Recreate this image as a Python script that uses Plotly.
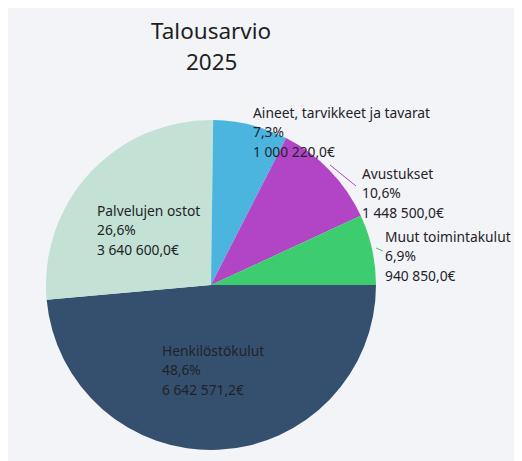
import plotly.graph_objects as go

# ---- data ----
categories = ["Henkilöstökulut", "Palvelujen ostot", "Aineet, tarvikkeet ja tavarat", "Avustukset", "Muut toimintakulut"]
values = [6642571.2, 3640600.0, 1000220.0, 1448500.0, 940850.0]
colors = ["#35506f", "#c3e1d5", "#4bb5e0", "#b145c6", "#3dcd6e"]
title_lines = ["Talousarvio", "2025"]

# page has an 8px body margin; figure fills the rest of the 522x461 window
OFF = 8
W, H = 522 - OFF, 461 - OFF

def px(x):
    return (x - OFF) / W

def py(y):
    return 1 - (y - OFF) / H

def fi_money(v):
    s = f"{v:,.1f}"
    s = s.replace(",", " ").replace(".", ",")
    return s + "€"

def fi_pct(p):
    return f"{p*100:.1f}".replace(".", ",") + "%"

total = sum(values)

# pie geometry (screen pixels)
cx, cy, r = 211, 285, 165

fig = go.Figure()
fig.add_trace(go.Pie(
    labels=categories,
    values=values,
    marker=dict(colors=colors, line=dict(width=0)),
    sort=False,
    direction="clockwise",
    rotation=90,
    textinfo="none",
    hoverinfo="label+percent+value",
    showlegend=False,
    domain=dict(x=[px(cx - r), px(cx + r)], y=[py(cy + r), py(cy - r)]),
))

# label anchor positions (left x, first line center y) in screen pixels
label_pos = [(160, 350), (95, 210), (251, 112), (360, 173), (383, 236)]
line_gap = 19.7
FONT = "Noto Sans, Open Sans, sans-serif"

annotations = []
for cat, val, (lx, ly) in zip(categories, values, label_pos):
    lines = [cat, fi_pct(val / total), fi_money(val)]
    for i, t in enumerate(lines):
        annotations.append(dict(
            x=px(lx), y=py(ly + i * line_gap), xref="paper", yref="paper",
            text=t, showarrow=False, xanchor="left", yanchor="middle",
            font=dict(family=FONT, size=13.8, color="#1f2328"),
        ))

for i, t in enumerate(title_lines):
    annotations.append(dict(
        x=px(211), y=py(30 + i * 32), xref="paper", yref="paper",
        text=t, showarrow=False, xanchor="center", yanchor="middle",
        font=dict(family=FONT, size=22.5, color="#1f1f1f"),
    ))

shapes = [
    dict(type="line", xref="paper", yref="paper", x0=px(330), y0=py(165), x1=px(356), y1=py(186),
         line=dict(color="#b145c6", width=1)),
    dict(type="line", xref="paper", yref="paper", x0=px(376), y0=py(248), x1=px(383), y1=py(251),
         line=dict(color="#3dcd6e", width=1)),
]

fig.update_layout(
    width=W, height=H,
    margin=dict(l=0, r=0, t=0, b=0),
    paper_bgcolor="#f3f4f8",
    plot_bgcolor="#f3f4f8",
    annotations=annotations,
    shapes=shapes,
)

fig.write_html("out.html")
